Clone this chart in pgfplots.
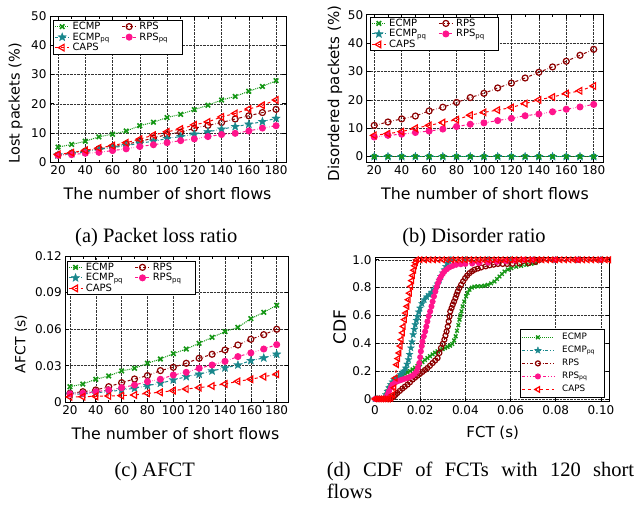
\documentclass[border=0pt]{standalone}
\usepackage{fontspec}
\setmainfont{Liberation Serif}
\newfontfamily\dejavu{DejaVu Sans}
\usepackage{pgfplots}
\pgfplotsset{compat=1.18}
\usetikzlibrary{plotmarks}
\definecolor{cecmp}{RGB}{20,150,20}
\definecolor{cecmppq}{RGB}{25,135,140}
\definecolor{crps}{RGB}{140,0,0}
\definecolor{crpspq}{RGB}{255,20,140}
\definecolor{ccaps}{RGB}{255,0,0}
\pgfdeclareplotmark{fstar}{%
  \pgfpathmoveto{\pgfpointpolar{90}{\pgfplotmarksize}}%
  \pgfpathlineto{\pgfpointpolar{126}{0.42\pgfplotmarksize}}%
  \pgfpathlineto{\pgfpointpolar{162}{\pgfplotmarksize}}%
  \pgfpathlineto{\pgfpointpolar{198}{0.42\pgfplotmarksize}}%
  \pgfpathlineto{\pgfpointpolar{234}{\pgfplotmarksize}}%
  \pgfpathlineto{\pgfpointpolar{270}{0.42\pgfplotmarksize}}%
  \pgfpathlineto{\pgfpointpolar{306}{\pgfplotmarksize}}%
  \pgfpathlineto{\pgfpointpolar{342}{0.42\pgfplotmarksize}}%
  \pgfpathlineto{\pgfpointpolar{18}{\pgfplotmarksize}}%
  \pgfpathlineto{\pgfpointpolar{54}{0.42\pgfplotmarksize}}%
  \pgfpathclose
  \pgfusepathqfillstroke}
\pgfplotsset{
 sECMP/.style={color=cecmp, densely dotted, line width=1pt, mark=x, mark size=3.2, mark options={solid, line width=1.6pt}},
 sECMPpq/.style={color=cecmppq, dash dot, line width=1pt, mark=fstar, mark size=4.4, mark options={solid, line width=0.3pt}},
 sRPS/.style={color=crps, dash dot, line width=1pt, mark=o, mark size=3, mark options={solid, line width=1.2pt}},
 sRPSpq/.style={color=crpspq, dash dot dot, line width=1pt, mark=*, mark size=3, mark options={solid}},
 sCAPS/.style={color=ccaps, dashed, line width=1pt, mark=triangle, mark size=3.8, mark options={solid, rotate=90, line width=1.2pt}},
 common/.style={scale only axis, grid=major,
   major grid style={black!80, densely dotted, line width=0.55pt},
   axis line style={line width=0.8pt}, tick style={black, line width=0.6pt},
   major tick length=4pt, minor tick length=2.5pt, scaled ticks=false,
   tick label style={font=\dejavu\fontsize{12}{14}\selectfont},
   /pgf/number format/assume math mode=true,
   legend cell align=left,
   legend style={font=\dejavu\fontsize{10}{11}\selectfont, draw=black, line width=0.8pt, inner sep=1pt, nodes={inner sep=0.8pt}},
 },
 short legend/.style={legend columns=2,
   legend style={/tikz/every even column/.append style={column sep=11pt}},
   legend image code/.code={\draw[mark repeat=2,mark phase=2] plot coordinates {(0pt,0pt) (7pt,0pt) (14pt,0pt)}; \path (16pt,0pt);}},
}
\begin{document}
\begin{tikzpicture}[x=1pt,y=1pt]
\path[use as bounding box] (0,0) rectangle (634,504);
% (a)
\begin{axis}[common, short legend, at={(50pt,341.7pt)}, anchor=south west, width=236pt, height=146.3pt,
 xmin=14.1, xmax=187.3, ymin=0, ymax=50, xtick={20,40,...,180}, ytick={0,10,...,50}, minor x tick num=1,
 xlabel={The number of short flows}, ylabel={Lost packets (\%)},
 every axis x label/.style={at={(axis description cs:0.498,-0.254)}, anchor=base, font=\dejavu\fontsize{15.8}{18}\selectfont},
 every axis y label/.style={at={(axis description cs:-0.146,0.402)}, rotate=90, anchor=center, font=\dejavu\fontsize{14.5}{16}\selectfont},
 legend style={at={(axis description cs:0.014,0.973)}, anchor=north west}]
\addplot[sECMP] coordinates {(20,5.2)(30,6.1)(40,7.2)(50,8.7)(60,9.6)(70,10.7)(80,12.5)(90,13.7)(100,15.3)(110,16.4)(120,18.0)(130,19.5)(140,21.3)(150,22.5)(160,24.3)(170,25.9)(180,27.9)};
\addplot[sRPS] coordinates {(20,2.5)(30,3.1)(40,3.8)(50,4.6)(60,5.2)(70,6.2)(80,7.1)(90,8.3)(100,9.5)(110,10.3)(120,11.6)(130,12.6)(140,13.6)(150,14.8)(160,15.9)(170,17.0)(180,18.1)};
\addplot[sECMPpq] coordinates {(20,2.5)(30,3.0)(40,3.6)(50,4.4)(60,5.0)(70,5.7)(80,6.5)(90,7.2)(100,8.1)(110,8.8)(120,9.6)(130,10.4)(140,11.3)(150,12.2)(160,13.0)(170,13.9)(180,15.0)};
\addplot[sRPSpq] coordinates {(20,2.4)(30,2.6)(40,3.1)(50,3.4)(60,4.0)(70,4.6)(80,5.4)(90,6.0)(100,6.7)(110,7.4)(120,8.0)(130,8.8)(140,9.5)(150,9.9)(160,10.7)(170,11.7)(180,12.5)};
\addplot[sCAPS] coordinates {(20,2.7)(30,3.3)(40,4.1)(50,4.9)(60,5.7)(70,6.7)(80,7.9)(90,9.3)(100,10.4)(110,11.4)(120,12.8)(130,13.8)(140,15.5)(150,16.7)(160,18.2)(170,19.5)(180,21.3)};
\legend{ECMP,RPS,ECMP\textsubscript{pq},RPS\textsubscript{pq}\hspace*{12pt},CAPS}
\end{axis}
% (b)
\begin{axis}[common, short legend, at={(366.7pt,341.7pt)}, anchor=south west, width=236.6pt, height=147.6pt,
 xmin=14.5, xmax=187, ymin=-2, ymax=50, xtick={20,40,...,180}, ytick={0,10,...,50}, minor x tick num=1,
 xlabel={The number of short flows}, ylabel={Disordered packets (\%)},
 every axis x label/.style={at={(axis description cs:0.5,-0.254)}, anchor=base, font=\dejavu\fontsize{15.8}{18}\selectfont},
 every axis y label/.style={at={(axis description cs:-0.134,0.466)}, rotate=90, anchor=center, font=\dejavu\fontsize{15}{17}\selectfont},
 legend style={at={(axis description cs:0.014,0.986)}, anchor=north west}]
\addplot[sECMP] coordinates {(20,0)(30,0)(40,0)(50,0)(60,0)(70,0)(80,0)(90,0)(100,0)(110,0)(120,0)(130,0)(140,0)(150,0)(160,0)(170,0)(180,0)};
\addplot[sRPS] coordinates {(20,11.0)(30,12.2)(40,13.3)(50,14.3)(60,16.1)(70,17.4)(80,19.1)(90,20.8)(100,22.3)(110,24.2)(120,25.9)(130,27.7)(140,29.7)(150,31.6)(160,33.6)(170,35.7)(180,37.8)};
\addplot[sECMPpq] coordinates {(20,0)(30,0)(40,0)(50,0)(60,0)(70,0)(80,0)(90,0)(100,0)(110,0)(120,0)(130,0)(140,0)(150,0)(160,0)(170,0)(180,0)};
\addplot[sRPSpq] coordinates {(20,6.9)(30,7.5)(40,7.9)(50,8.5)(60,9.0)(70,9.7)(80,10.6)(90,11.4)(100,11.9)(110,12.7)(120,13.5)(130,14.4)(140,15.0)(150,15.8)(160,16.7)(170,17.5)(180,18.4)};
\addplot[sCAPS] coordinates {(20,7.5)(30,8.1)(40,8.8)(50,10.0)(60,11.0)(70,12.0)(80,13.0)(90,14.6)(100,15.6)(110,16.4)(120,17.3)(130,18.7)(140,20.0)(150,21.0)(160,22.2)(170,23.2)(180,24.9)};
\addplot[sECMP, forget plot, mark size=2.8] coordinates {(20,0)(30,0)(40,0)(50,0)(60,0)(70,0)(80,0)(90,0)(100,0)(110,0)(120,0)(130,0)(140,0)(150,0)(160,0)(170,0)(180,0)};
\legend{ECMP,RPS,ECMP\textsubscript{pq},RPS\textsubscript{pq}\hspace*{12pt},CAPS}
\end{axis}
% (c)
\begin{axis}[common, short legend, at={(65.3pt,101.7pt)}, anchor=south west, width=223.4pt, height=146.3pt,
 xmin=16.4, xmax=189.3, ymin=0, ymax=0.12, xtick={20,40,...,180}, ytick={0,0.03,0.06,0.09,0.12}, yticklabels={0,0.03,0.06,0.09,0.12}, minor x tick num=1,
 xlabel={The number of short flows}, ylabel={AFCT (s)},
 every axis x label/.style={at={(axis description cs:0.493,-0.251)}, anchor=base, font=\dejavu\fontsize{15.8}{18}\selectfont},
 every axis y label/.style={at={(axis description cs:-0.198,0.398)}, rotate=90, anchor=center, font=\dejavu\fontsize{14}{16}\selectfont},
 legend style={at={(axis description cs:0.006,0.968)}, anchor=north west}]
\addplot[sECMP] coordinates {(20,0.0128)(30,0.0150)(40,0.0189)(50,0.0216)(60,0.0257)(70,0.0279)(80,0.0320)(90,0.0355)(100,0.0399)(110,0.0437)(120,0.0484)(130,0.0533)(140,0.0580)(150,0.0615)(160,0.0686)(170,0.0738)(180,0.0796)};
\addplot[sRPS] coordinates {(20,0.0074)(30,0.0087)(40,0.0101)(50,0.0128)(60,0.0161)(70,0.0191)(80,0.0219)(90,0.0260)(100,0.0287)(110,0.0320)(120,0.0361)(130,0.0394)(140,0.0429)(150,0.0470)(160,0.0517)(170,0.0555)(180,0.0599)};
\addplot[sECMPpq] coordinates {(20,0.0066)(30,0.0068)(40,0.0079)(50,0.0087)(60,0.0101)(70,0.0115)(80,0.0137)(90,0.0156)(100,0.0183)(110,0.0210)(120,0.0230)(130,0.0257)(140,0.0282)(150,0.0306)(160,0.0342)(170,0.0364)(180,0.0394)};
\addplot[sRPSpq] coordinates {(20,0.0068)(30,0.0074)(40,0.0087)(50,0.0101)(60,0.0120)(70,0.0142)(80,0.0170)(90,0.0189)(100,0.0224)(110,0.0246)(120,0.0279)(130,0.0306)(140,0.0336)(150,0.0375)(160,0.0405)(170,0.0437)(180,0.0473)};
\addplot[sCAPS] coordinates {(20,0.0044)(30,0.0046)(40,0.0049)(50,0.0052)(60,0.0055)(70,0.0060)(80,0.0074)(90,0.0082)(100,0.0096)(110,0.0109)(120,0.0120)(130,0.0134)(140,0.0150)(150,0.0172)(160,0.0189)(170,0.0210)(180,0.0230)};
\legend{ECMP,RPS,ECMP\textsubscript{pq},RPS\textsubscript{pq}\hspace*{12pt},CAPS}
\end{axis}
% (d)
\begin{axis}[common, at={(375pt,102.3pt)}, anchor=south west, width=234.5pt, height=144.7pt,
 xmin=0, xmax=0.1038, ymin=-0.02, ymax=1.02,
 xtick={0,0.02,0.04,0.06,0.08,0.1}, xticklabels={0,0.02,0.04,0.06,0.08,0.10},
 ytick={0,0.2,0.4,0.6,0.8,1}, yticklabels={0,0.2,0.4,0.6,0.8,1.0},
 xlabel={FCT (s)}, ylabel={CDF},
 every axis x label/.style={at={(axis description cs:0.502,-0.247)}, anchor=base, font=\dejavu\fontsize{15}{17}\selectfont},
 every axis y label/.style={at={(axis description cs:-0.151,0.518)}, rotate=90, anchor=center, font=\dejavu\fontsize{17}{19}\selectfont},
 legend style={at={(axis description cs:0.978,0.03)}, anchor=south east, font=\dejavu\fontsize{8.8}{10}\selectfont, inner sep=1pt, nodes={inner xsep=0.8pt, inner ysep=2.5pt}},
 legend image code/.code={\draw[mark repeat=2,mark phase=2] plot coordinates {(0pt,0pt) (16pt,0pt) (32pt,0pt)}; \path (39pt,0pt);}]
\addplot[sECMP, mark size=2.6, mark options={solid, line width=1.3pt}] coordinates {(0.004,0.003)(0.0048,0.03)(0.0055,0.055)(0.0062,0.08)(0.007,0.1)(0.0084,0.135)(0.0099,0.15)(0.011,0.16)(0.0121,0.17)(0.0132,0.18)(0.0144,0.19)(0.0155,0.2)(0.0166,0.212)(0.0177,0.224)(0.0188,0.236)(0.0199,0.25)(0.021,0.265)(0.0221,0.28)(0.0232,0.294)(0.0243,0.307)(0.0255,0.32)(0.0266,0.332)(0.0277,0.342)(0.0288,0.35)(0.0299,0.358)(0.031,0.366)(0.0321,0.374)(0.0332,0.383)(0.0342,0.395)(0.035,0.42)(0.0357,0.45)(0.0363,0.49)(0.0369,0.53)(0.0374,0.57)(0.0378,0.6)(0.0383,0.63)(0.0388,0.665)(0.0395,0.7)(0.0403,0.737)(0.041,0.762)(0.0418,0.785)(0.0429,0.8)(0.044,0.807)(0.0455,0.809)(0.047,0.81)(0.0485,0.814)(0.0499,0.82)(0.0514,0.83)(0.0529,0.844)(0.054,0.862)(0.0551,0.88)(0.0562,0.898)(0.0573,0.916)(0.0588,0.93)(0.0603,0.94)(0.0625,0.95)(0.0647,0.957)(0.067,0.964)(0.0692,0.971)(0.071,0.977)};
\addplot[sECMPpq, mark size=3.6] coordinates {(0,0)(0.001,0)(0.002,0)(0.003,0)(0.004,0.003)(0.0048,0.03)(0.0055,0.055)(0.0062,0.08)(0.007,0.103)(0.0077,0.122)(0.0084,0.139)(0.0095,0.15)(0.0107,0.162)(0.0114,0.175)(0.0121,0.187)(0.0128,0.2)(0.0136,0.222)(0.0142,0.25)(0.0148,0.282)(0.0153,0.32)(0.0159,0.366)(0.0164,0.41)(0.0169,0.462)(0.0174,0.5)(0.0178,0.534)(0.0183,0.565)(0.0188,0.593)(0.0193,0.625)(0.0199,0.653)(0.0208,0.685)(0.0218,0.713)(0.0229,0.733)(0.024,0.749)(0.0251,0.767)(0.0262,0.785)(0.027,0.805)(0.0277,0.826)(0.0285,0.853)(0.0292,0.88)(0.03,0.905)(0.0307,0.928)(0.0314,0.952)(0.0321,0.976)(0.0328,0.99)(0.0336,1)(0.04,1)(0.05,1)(0.06,1)(0.07,1)(0.08,1)(0.09,1)(0.1,1)};
\addplot[sRPS, mark size=2.5] coordinates {(0.007,0.002)(0.0077,0.01)(0.0084,0.019)(0.0091,0.03)(0.0099,0.043)(0.011,0.058)(0.0121,0.074)(0.0132,0.088)(0.0144,0.103)(0.0155,0.12)(0.0166,0.139)(0.0177,0.153)(0.0188,0.167)(0.0199,0.18)(0.021,0.194)(0.0221,0.208)(0.0232,0.222)(0.0243,0.238)(0.0255,0.258)(0.0266,0.276)(0.0277,0.294)(0.0285,0.33)(0.0292,0.366)(0.03,0.396)(0.0307,0.426)(0.0312,0.455)(0.0317,0.485)(0.0322,0.52)(0.0326,0.557)(0.033,0.593)(0.0333,0.629)(0.0339,0.653)(0.0344,0.677)(0.035,0.7)(0.0356,0.725)(0.0361,0.749)(0.0366,0.772)(0.0373,0.796)(0.0381,0.82)(0.039,0.845)(0.0399,0.868)(0.0408,0.887)(0.0418,0.904)(0.0429,0.917)(0.044,0.928)(0.0455,0.937)(0.047,0.945)(0.049,0.953)(0.0507,0.96)(0.0525,0.965)(0.0544,0.97)(0.0565,0.97)(0.0585,0.97)(0.0609,0.971)(0.064,0.973)(0.068,0.977)(0.071,0.985)(0.073,1)(0.08,1)(0.09,1)(0.1,1)};
\addplot[sRPSpq, mark size=2.5] coordinates {(0,0)(0.001,0)(0.002,0)(0.003,0)(0.004,0)(0.0047,0.005)(0.0055,0.03)(0.0062,0.055)(0.007,0.08)(0.0077,0.103)(0.0088,0.116)(0.0099,0.126)(0.011,0.133)(0.0121,0.139)(0.0132,0.145)(0.0144,0.151)(0.0155,0.158)(0.0166,0.167)(0.0175,0.18)(0.0184,0.198)(0.019,0.225)(0.0196,0.258)(0.02,0.3)(0.0203,0.342)(0.0207,0.38)(0.021,0.413)(0.0216,0.45)(0.0222,0.485)(0.0227,0.52)(0.0232,0.557)(0.0238,0.595)(0.0244,0.629)(0.025,0.665)(0.0255,0.7)(0.0261,0.737)(0.0267,0.772)(0.0273,0.805)(0.0279,0.833)(0.0285,0.858)(0.0292,0.88)(0.03,0.9)(0.0307,0.916)(0.0318,0.932)(0.0329,0.945)(0.0344,0.956)(0.0359,0.964)(0.038,0.968)(0.04,0.97)(0.043,0.973)(0.046,0.976)(0.05,0.98)(0.054,0.985)(0.058,0.99)(0.062,0.995)(0.066,1)(0.07,1)(0.08,1)(0.09,1)(0.1,1)};
\addplot[sCAPS, mark size=3.2] coordinates {(0,0)(0.001,0)(0.002,0)(0.003,0)(0.004,0)(0.005,0)(0.006,0)(0.007,0.005)(0.0078,0.03)(0.0085,0.08)(0.009,0.15)(0.0096,0.246)(0.0102,0.29)(0.0107,0.33)(0.0112,0.38)(0.0117,0.426)(0.0122,0.475)(0.0126,0.521)(0.0131,0.57)(0.0136,0.617)(0.0142,0.665)(0.0148,0.713)(0.0153,0.76)(0.0159,0.808)(0.0163,0.85)(0.0167,0.887)(0.0172,0.925)(0.0176,0.957)(0.018,0.98)(0.0185,1)(0.02,1)(0.022,1)(0.024,1)(0.026,1)(0.028,1)(0.03,1)(0.032,1)(0.034,1)(0.036,1)(0.038,1)(0.04,1)(0.042,1)(0.044,1)(0.046,1)(0.048,1)(0.05,1)(0.052,1)(0.054,1)(0.056,1)(0.058,1)(0.06,1)(0.062,1)(0.064,1)(0.066,1)(0.068,1)(0.07,1)(0.072,1)(0.074,1)(0.076,1)(0.078,1)(0.08,1)(0.082,1)(0.084,1)(0.086,1)(0.088,1)(0.09,1)(0.092,1)(0.094,1)(0.096,1)(0.098,1)(0.1,1)(0.102,1)(0.1035,1)};
\legend{ECMP,ECMP\textsubscript{pq}\hspace*{7pt},RPS,RPS\textsubscript{pq},CAPS}
\end{axis}
% captions
\node[anchor=base, inner sep=0, font=\fontsize{20.5}{22}\selectfont] at (156.3,261.2) {(a)\ Packet loss ratio};
\node[anchor=base, inner sep=0, font=\fontsize{20.5}{22}\selectfont] at (474,261.2) {(b)\ Disorder ratio};
\node[anchor=base west, inner sep=0, font=\fontsize{20.5}{22}\selectfont] at (114.4,27.3) {(c)\ AFCT};
\node[anchor=base west, inner sep=0, font=\fontsize{20.5}{22}\selectfont] at (326.7,27.3) {\makebox[307.3pt][s]{(d)\ CDF of FCTs with 120 short}};
\node[anchor=base west, inner sep=0, font=\fontsize{20.5}{22}\selectfont] at (326.7,5.4) {flows};
\end{tikzpicture}
\end{document}
